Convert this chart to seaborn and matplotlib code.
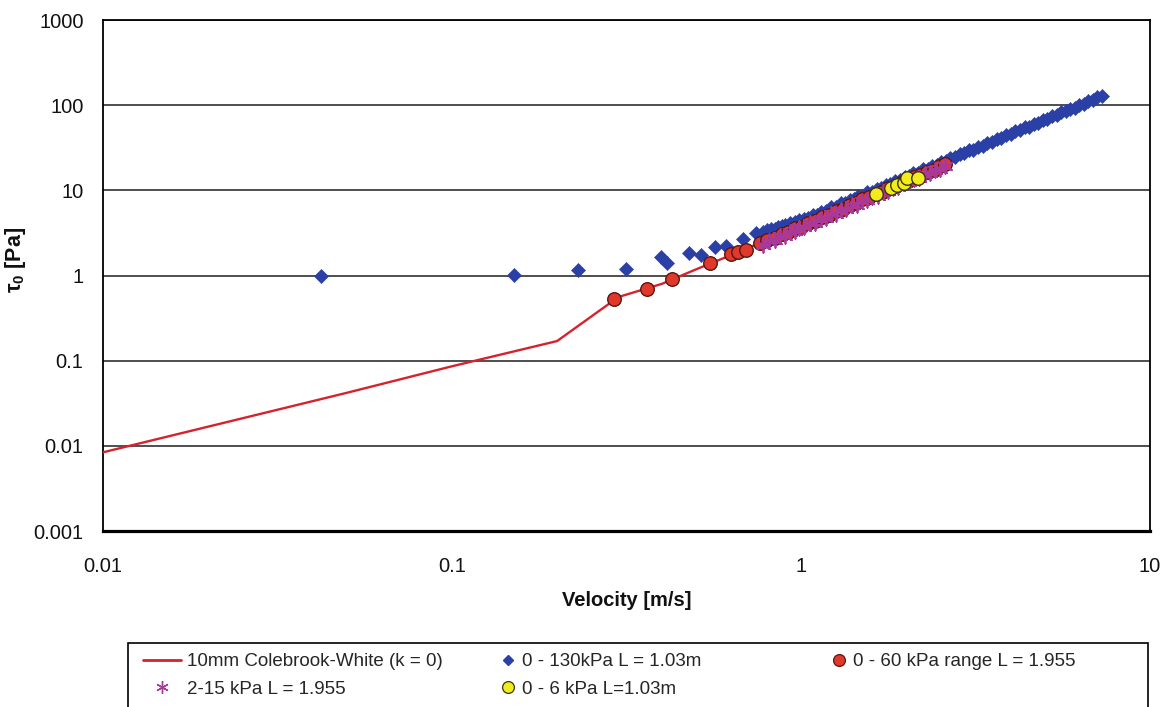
import matplotlib
matplotlib.use("Agg")
import matplotlib.pyplot as plt
from matplotlib.lines import Line2D
from matplotlib.patches import Rectangle
from matplotlib.ticker import LogLocator, FuncFormatter, NullLocator
import seaborn as sns
import pandas as pd

# ---- data: wall shear stress vs. mean velocity ----
# 10mm Colebrook-White (k = 0) prediction
cw_velocity = [0.01, 0.05, 0.1, 0.2, 0.3, 0.4, 0.5, 0.6, 0.7, 0.8, 1.0, 1.5, 2.0, 2.6]
cw_stress = [0.0084, 0.042, 0.086, 0.17, 0.56, 0.80, 1.18, 1.60, 2.08, 2.62, 3.85, 7.9, 13.0, 20.5]

# 0 - 130kPa, L = 1.03m
hp_velocity = [0.042, 0.151, 0.229, 0.315, 0.398, 0.414, 0.479, 0.518, 0.568, 0.61, 0.683, 0.743,
               0.78, 0.80, 0.82, 0.84, 0.86, 0.88, 0.90, 0.93, 0.96, 0.99,
               1.02, 1.05, 1.08, 1.11, 1.14, 1.18, 1.22, 1.26, 1.30, 1.34,
               1.38, 1.42, 1.46, 1.50, 1.55, 1.60, 1.65, 1.70, 1.75, 1.80,
               1.86, 1.92, 1.98, 2.04, 2.10, 2.17, 2.24, 2.31, 2.38, 2.45,
               2.52, 2.60, 2.68, 2.76, 2.85, 2.94, 3.03, 3.12, 3.22, 3.32,
               3.42, 3.53, 3.64, 3.75, 3.87, 3.99, 4.11, 4.24, 4.37, 4.50,
               4.64, 4.78, 4.93, 5.08, 5.24, 5.40, 5.56, 5.73, 5.90, 6.08,
               6.27, 6.46, 6.66, 6.86, 7.07, 7.28]
hp_stress = [1.0, 1.02, 1.15, 1.18, 1.63, 1.42, 1.86, 1.72, 2.19, 2.25, 2.72, 3.12,
             3.25, 3.38, 3.52, 3.50, 3.72, 3.85, 3.92, 4.15, 4.28, 4.50,
             4.62, 4.70, 5.10, 5.18, 5.62, 5.75, 6.30, 6.41, 7.02, 7.12,
             7.75, 7.86, 8.55, 8.62, 9.45, 9.62, 10.5, 10.7, 11.6, 11.8,
             12.9, 13.1, 14.3, 14.6, 15.8, 16.2, 17.6, 18.0, 19.5, 19.9,
             21.5, 22.0, 23.9, 24.4, 26.5, 27.1, 29.4, 30.0, 32.6, 33.4,
             36.1, 37.0, 40.1, 41.0, 44.5, 45.6, 49.3, 50.6, 54.7, 56.0,
             60.5, 62.0, 67.0, 68.8, 74.4, 76.3, 82.2, 84.5, 90.8, 93.4,
             100.7, 103.6, 111.6, 114.8, 123.5, 127.5]

# 0 - 60 kPa range, L = 1.955
mp_velocity = [0.292, 0.363, 0.426, 0.55, 0.63, 0.66, 0.697, 0.764,
               0.80, 0.84, 0.88, 0.92, 0.96, 1.00, 1.05, 1.10, 1.15, 1.20,
               1.26, 1.32, 1.38, 1.44, 1.50, 1.57, 1.64, 1.71, 1.78, 1.86,
               1.94, 2.02, 2.11, 2.20, 2.30, 2.40, 2.50, 2.58]
mp_stress = [0.536, 0.70, 0.92, 1.42, 1.77, 1.87, 2.02, 2.44,
             2.60, 2.78, 3.08, 3.25, 3.58, 3.76, 4.18, 4.42, 4.93, 5.18,
             5.75, 6.10, 6.78, 7.10, 7.85, 8.30, 9.15, 9.62, 10.6, 11.1,
             12.3, 12.9, 14.2, 15.0, 16.5, 17.5, 19.1, 20.2]

# 2-15 kPa, L = 1.955
lp_velocity = [0.78, 0.81, 0.84, 0.87, 0.90, 0.93, 0.96, 0.99, 1.02, 1.06,
               1.10, 1.14, 1.18, 1.22, 1.26, 1.30, 1.35, 1.40, 1.45, 1.50,
               1.55, 1.60, 1.66, 1.72, 1.78, 1.84, 1.90, 1.97, 2.04, 2.11,
               2.18, 2.26, 2.34, 2.42, 2.50, 2.58]
lp_stress = [2.30, 2.55, 2.62, 2.90, 2.95, 3.26, 3.30, 3.65, 3.68, 4.10,
             4.18, 4.66, 4.75, 5.25, 5.32, 5.86, 6.02, 6.68, 6.82, 7.54,
             7.66, 8.43, 8.62, 9.58, 9.75, 10.8, 10.9, 12.1, 12.4, 13.7,
             13.9, 15.4, 15.8, 17.4, 17.7, 19.4]

# 0 - 6 kPa, L = 1.03m
sp_velocity = [1.64, 1.81, 1.88, 1.97, 2.01, 2.16]
sp_stress = [8.97, 10.8, 11.5, 12.1, 13.8, 13.8]

series_labels = ["10mm Colebrook-White (k = 0)", "0 - 130kPa L = 1.03m",
                 "0 - 60 kPa range L = 1.955", "2-15 kPa L = 1.955", "0 - 6 kPa L=1.03m"]

# ---- styling ----
sns.set_theme(style="white")
plt.rcParams["font.family"] = ["Liberation Sans", "DejaVu Sans"]
plt.rcParams["mathtext.fontset"] = "custom"
plt.rcParams["mathtext.rm"] = "Liberation Sans"
plt.rcParams["mathtext.bf"] = "Liberation Sans:bold"

RED_LINE = "#d4232d"
BLUE = "#2b40a6"
RED = "#e0392b"
RED_EDGE = "#5a1510"
MAGENTA = "#a8399a"
YELLOW = "#f2ec1c"
YELLOW_EDGE = "#3a3410"

fig = plt.figure(figsize=(11.75, 7.07), dpi=100)
fig.patch.set_facecolor("white")
ax = fig.add_axes([0.0877, 0.2489, 0.891, 0.7228])
ax.set_xscale("log")
ax.set_yscale("log")

cw = pd.DataFrame({"v": cw_velocity, "tau": cw_stress})
hp = pd.DataFrame({"v": hp_velocity, "tau": hp_stress})
mp = pd.DataFrame({"v": mp_velocity, "tau": mp_stress})
lp = pd.DataFrame({"v": lp_velocity, "tau": lp_stress})
sp = pd.DataFrame({"v": sp_velocity, "tau": sp_stress})

sns.lineplot(data=cw, x="v", y="tau", ax=ax, color=RED_LINE, lw=1.7,
             sort=False, estimator=None, legend=False, zorder=3)
sns.scatterplot(data=hp, x="v", y="tau", ax=ax, marker="D", s=52, color=BLUE,
                edgecolor=BLUE, linewidth=0.4, legend=False, zorder=4)
sns.scatterplot(data=mp, x="v", y="tau", ax=ax, marker="o", s=95, color=RED,
                edgecolor=RED_EDGE, linewidth=1.0, legend=False, zorder=5)
sns.scatterplot(data=lp, x="v", y="tau", ax=ax, marker=(6, 2, 0), s=110,
                color=MAGENTA, edgecolor=MAGENTA, linewidth=1.3, legend=False, zorder=6)
sns.scatterplot(data=sp, x="v", y="tau", ax=ax, marker="o", s=95, color=YELLOW,
                edgecolor=YELLOW_EDGE, linewidth=1.0, legend=False, zorder=7)

ax.set_xlim(0.01, 10)
ax.set_ylim(0.001, 1000)

# axes frame and horizontal decade grid
for side in ["left", "top", "right"]:
    ax.spines[side].set_color("black")
    ax.spines[side].set_linewidth(1.3)
ax.spines["bottom"].set_color("black")
ax.spines["bottom"].set_linewidth(2.3)
ax.set_axisbelow(True)
ax.yaxis.grid(True, which="major", color="#1e1e1e", lw=1.1)
ax.xaxis.grid(False)

fmt = FuncFormatter(lambda val, _: f"{val:g}")
ax.xaxis.set_major_locator(LogLocator(base=10, numticks=10))
ax.xaxis.set_minor_locator(LogLocator(base=10, subs=range(2, 10), numticks=20))
ax.xaxis.set_major_formatter(fmt)
ax.yaxis.set_major_locator(LogLocator(base=10, numticks=10))
ax.yaxis.set_minor_locator(NullLocator())
ax.yaxis.set_major_formatter(fmt)

ax.tick_params(axis="x", which="major", direction="in", length=6, width=1.0,
               color="black", pad=19, labelsize=14.5, labelcolor="#111111")
ax.tick_params(axis="x", which="minor", direction="in", length=4, width=0.8, color="black")
ax.tick_params(axis="y", which="both", length=0, pad=14, labelsize=14.5, labelcolor="#111111")

ax.set_xlabel("Velocity [m/s]", fontsize=14.5, fontweight="bold", color="#111111")
ax.xaxis.set_label_coords(0.5, -0.118)
ax.set_ylabel("τ$_\\mathbf{0}$ [Pa]", fontsize=15.5, fontweight="bold", color="#111111")
ax.yaxis.set_label_coords(-0.0716, 0.53)

# legend: framed box below the plot, three columns laid out row by row
fig.add_artist(Rectangle((128 / 1175, -0.05), (1148 - 128) / 1175, 0.05 + (707 - 643) / 707,
                         transform=fig.transFigure, fill=False, ec="black", lw=1.2))

h_line = Line2D([], [], color=RED_LINE, lw=2.0)
h_blue = Line2D([], [], ls="none", marker="D", ms=5.2, color=BLUE, mec=BLUE)
h_red = Line2D([], [], ls="none", marker="o", ms=8.5, color=RED, mec=RED_EDGE, mew=0.9)
h_mag = Line2D([], [], ls="none", marker=(6, 2, 0), ms=9, color=MAGENTA, mew=1.0)
h_yel = Line2D([], [], ls="none", marker="o", ms=8.5, color=YELLOW, mec=YELLOW_EDGE, mew=0.9)

leg_kw = dict(loc="upper left", bbox_transform=fig.transFigure, frameon=False,
              borderaxespad=0, borderpad=0, handletextpad=0.35, labelspacing=0.55,
              fontsize=13.5)
y_anchor = 1 - 653 / 707
fig.legend([h_line, h_mag], [series_labels[0], series_labels[3]],
           bbox_to_anchor=(143 / 1175, y_anchor), handlelength=2.0, **leg_kw)
fig.legend([h_blue, h_yel], [series_labels[1], series_labels[4]],
           bbox_to_anchor=(500 / 1175, y_anchor), handlelength=0.8, **leg_kw)
fig.legend([h_red], [series_labels[2]],
           bbox_to_anchor=(831 / 1175, y_anchor), handlelength=0.8, **leg_kw)

fig.savefig("out.png", dpi=100, facecolor="white")
